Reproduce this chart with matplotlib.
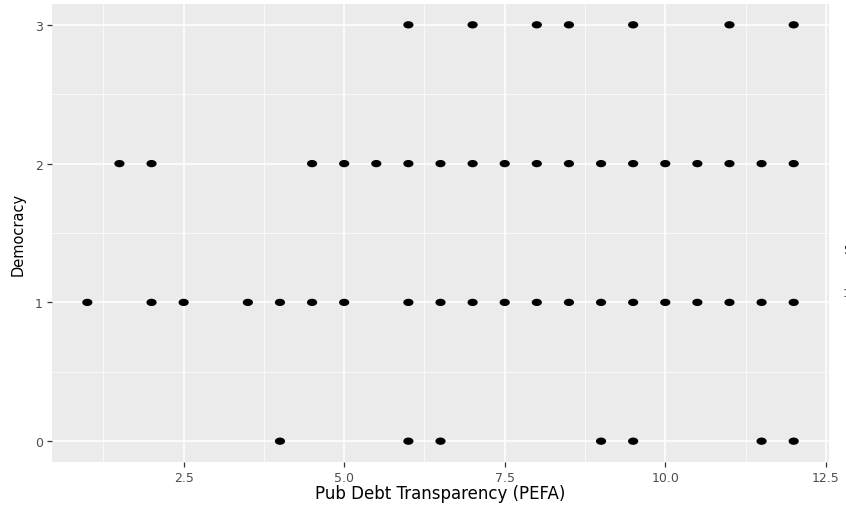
import matplotlib
matplotlib.use("Agg")
import matplotlib.pyplot as plt
from matplotlib.path import Path
from matplotlib.transforms import Affine2D

# Data: Pub Debt Transparency (PEFA) vs Democracy
x_dem3 = [6, 7, 8, 8.5, 9.5, 11, 12]
x_dem2 = [1.5, 2, 4.5, 5, 5.5, 6, 6.5, 7, 7.5, 8, 8.5, 9, 9.5, 10, 10.5, 11, 11.5, 12]
x_dem1 = [1, 2, 2.5, 3.5, 4, 4.5, 5, 6, 6.5, 7, 7.5, 8, 8.5, 9, 9.5, 10, 10.5, 11, 11.5, 12]
x_dem0 = [4, 6, 6.5, 9, 9.5, 11.5, 12]
y_levels = [3, 2, 1, 0]

xticks = [2.5, 5.0, 7.5, 10.0, 12.5]
xtick_labels = ["2.5", "5.0", "7.5", "10.0", "12.5"]
yticks = [0, 1, 2, 3]
ytick_labels = ["0", "1", "2", "3"]

W, H = 846, 506
fig = plt.figure(figsize=(W / 100, H / 100), dpi=100)
ax = fig.add_axes([52 / W, (H - 463) / H, (829 - 52) / W, (463 - 5) / H])
ax.set_facecolor("#EBEBEB")
for s in ax.spines.values():
    s.set_visible(False)

# ellipse marker (image is horizontally stretched)
ell = Path.unit_circle().transformed(Affine2D().scale(1.4, 1.0))

for xs, yv in zip([x_dem3, x_dem2, x_dem1, x_dem0], y_levels):
    ax.scatter(xs, [yv] * len(xs), marker=ell, s=54, color="black",
               edgecolors="none", zorder=3)

ax.set_xlim(0.45, 12.55)
ax.set_ylim(-0.15, 3.15)
ax.set_xticks(xticks)
ax.set_xticklabels(xtick_labels)
ax.set_yticks(yticks)
ax.set_yticklabels(ytick_labels)
ax.set_xticks([1.25, 3.75, 6.25, 8.75, 11.25], minor=True)
ax.set_yticks([0.5, 1.5, 2.5], minor=True)

ax.grid(which="major", color="white", linewidth=1.1)
ax.grid(which="minor", color="white", linewidth=0.5)
ax.set_axisbelow(True)

ax.tick_params(which="major", direction="out", length=3.5, width=0.9,
               color="#333333", labelcolor="#4D4D4D", labelsize=9, pad=3)
ax.tick_params(which="minor", length=0)

ax.set_xlabel("Pub Debt Transparency (PEFA)", fontsize=12, color="black", labelpad=0)
ax.set_ylabel("Democracy", fontsize=10.5, color="black", labelpad=7)

# clipped legend fragments at right edge
fig.text(843 / W, 1 - 251 / H, "S", fontsize=9, color="#222222", va="center", ha="left")
fig.text(843 / W, 1 - 294 / H, "1", fontsize=8, color="#4D4D4D", va="center", ha="left")

fig.savefig("out.png", dpi=100)
